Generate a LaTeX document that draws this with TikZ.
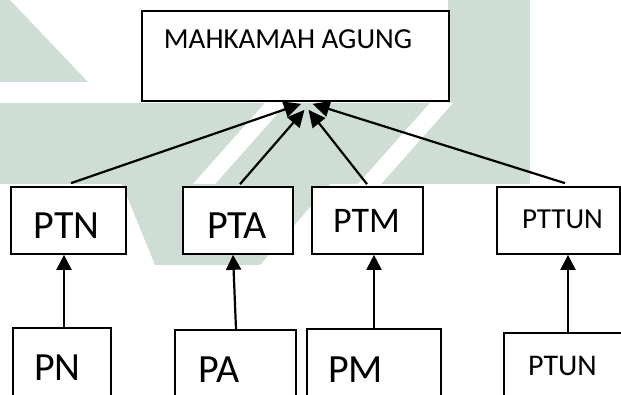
\documentclass[tikz,border=0pt]{standalone}
\usepackage{fontspec}
\setmainfont{Carlito}
\usetikzlibrary{arrows.meta}
\definecolor{wm}{RGB}{206,222,213}
\begin{document}
\begin{tikzpicture}[x=1pt,y=-1pt,
  box/.style={draw, line width=1.7pt, fill=white, inner sep=0pt},
  txt/.style={anchor=base, inner sep=0pt},
  conn/.style={line width=2.2pt, -{Triangle[length=17pt,width=16pt]}},
  upconn/.style={line width=2.2pt, -{Triangle[length=15pt,width=15pt]}}]
\useasboundingbox (0,0) rectangle (621,395);
\clip (0,0) rectangle (621,395);
% watermark
\fill[wm] (0,0) -- (10,0) -- (88,82) -- (0,82) -- cycle;
\fill[wm] (0,103) -- (448,103) -- (448,0) -- (530,0) -- (530,184) -- (0,184) -- cycle;
\fill[wm] (122,184) -- (330,184) -- (260,265) -- (155,265) -- cycle;
\fill[white] (265,103) -- (287,103) -- (215,184) -- (193,184) -- cycle;
\fill[white] (430,103) -- (453,103) -- (381,184) -- (358,184) -- cycle;
% boxes
\node[box, minimum width=307pt, minimum height=90pt] (ma) at (295.5,56) {};
\node[box, minimum width=115pt, minimum height=67pt] (ptn) at (68.5,220.5) {};
\node[box, minimum width=110pt, minimum height=67pt] (pta) at (238,220.5) {};
\node[box, minimum width=111pt, minimum height=67pt] (ptm) at (367.5,220.5) {};
\node[box, minimum width=123pt, minimum height=67pt] (pttun) at (558.5,220.5) {};
\node[box, minimum width=98pt, minimum height=92pt] (pn) at (62,374) {};
\node[box, minimum width=121pt, minimum height=90pt] (pa) at (235.5,375) {};
\node[box, minimum width=134pt, minimum height=91pt] (pm) at (374,374.5) {};
\node[box, minimum width=136pt, minimum height=87pt] (ptun) at (572,376.5) {};
% texts
\node[txt, font=\fontsize{29}{29}\selectfont] (tma) at (288,49) {MAHKAMAH AGUNG};
\node[txt, font=\fontsize{40}{40}\selectfont] (tptn) at (66.5,239) {PTN};
\node[txt, font=\fontsize{40}{40}\selectfont] (tpta) at (237,239) {PTA};
\node[txt, font=\fontsize{36}{36}\selectfont] (tptm) at (366.5,233) {PTM};
\node[txt, font=\fontsize{29}{29}\selectfont] (tpttun) at (562.5,229) {PTTUN};
\node[txt, font=\fontsize{40}{40}\selectfont] (tpn) at (57.5,380) {PN};
\node[txt, font=\fontsize{40}{40}\selectfont] (tpa) at (219,382) {PA};
\node[txt, font=\fontsize{40}{40}\selectfont] (tpm) at (355.5,382) {PM};
\node[txt, font=\fontsize{30}{30}\selectfont] (tptun) at (562.5,375) {PTUN};
% connectors to Mahkamah Agung
\draw[conn] ([xshift=2.5pt,yshift=3pt]ptn.north) -- ([xshift=5.5pt,yshift=-2pt]ma.south);
\draw[conn] ([xshift=2pt,yshift=2pt]pta.north) -- ([xshift=9pt,yshift=-8pt]ma.south);
\draw[conn] ([xshift=-0.5pt,yshift=2pt]ptm.north) -- ([xshift=13pt,yshift=-8pt]ma.south);
\draw[conn] ([xshift=6.5pt,yshift=3pt]pttun.north) -- ([xshift=17pt,yshift=-2pt]ma.south);
% vertical connectors
\draw[upconn] ([xshift=2pt]pn.north) -- ([xshift=-4.5pt]ptn.south);
\draw[upconn] ([xshift=0.5pt]pa.north) -- ([xshift=-5pt]pta.south);
\draw[upconn] (pm.north) -- ([xshift=6.5pt]ptm.south);
\draw[upconn] ([xshift=-4pt]ptun.north) -- ([xshift=9.5pt]pttun.south);
\end{tikzpicture}
\end{document}
